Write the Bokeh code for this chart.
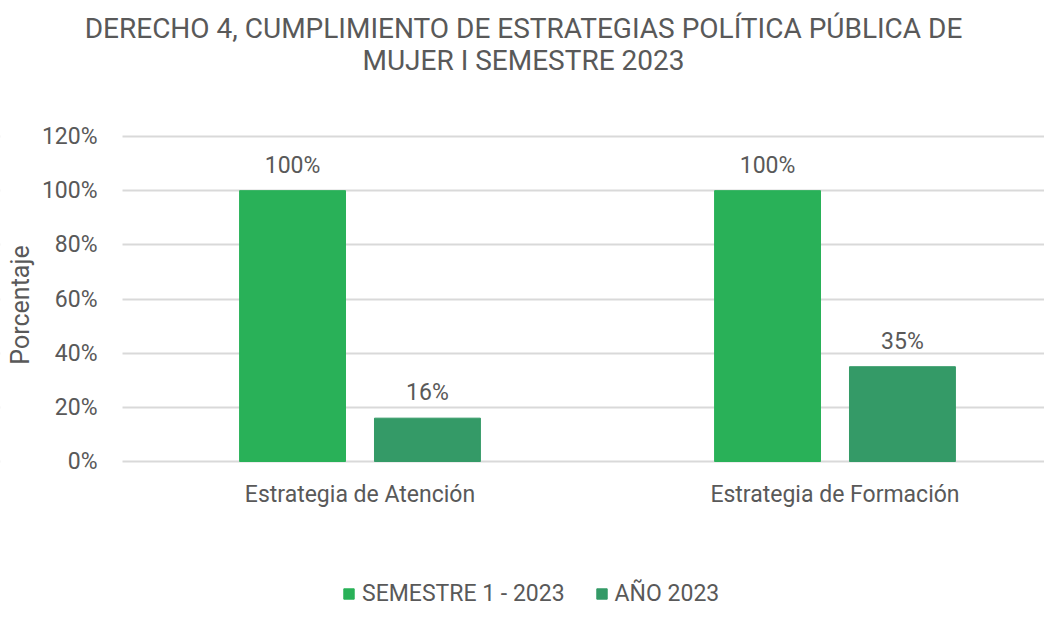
from bokeh.plotting import figure
from bokeh.models import ColumnDataSource, Legend, LegendItem, NumeralTickFormatter, Label, BoxAnnotation
from bokeh.transform import dodge
from bokeh.core.properties import value
from bokeh.embed import file_html
from bokeh.resources import INLINE

categories = ["Estrategia de Atención", "Estrategia de Formación"]
semestre = [1.00, 1.00]
anio = [0.16, 0.35]
series_names = ["SEMESTRE 1 - 2023", "AÑO 2023"]
title_lines = ["DERECHO 4, CUMPLIMIENTO DE ESTRATEGIAS POLÍTICA PÚBLICA DE", "MUJER I SEMESTRE 2023"]
y_ticks = [0, 0.2, 0.4, 0.6, 0.8, 1.0, 1.2]

FONT = "Roboto"
GREY = "#595959"
C1 = "#29B158"
C2 = "#349A67"

W, H = 1044, 609
LEFT = 122             # pixel column of the plot area's left edge
TOP0, BASE = 136, 461  # pixel rows for 120% and 0%
PX_PER_UNIT_Y = (BASE - TOP0) / 1.2
PX_PER_CAT = 475

pos = [i + 0.5 for i in range(len(categories))]
src = ColumnDataSource(dict(
    pos=pos, s=semestre, a=anio,
    sl=[f"{v*100:.0f}%" for v in semestre],
    al=[f"{v*100:.0f}%" for v in anio],
))

x_start = -LEFT / PX_PER_CAT
x_end = (W - LEFT) / PX_PER_CAT
y_start = -(H - BASE) / PX_PER_UNIT_Y
y_end = 1.2 + TOP0 / PX_PER_UNIT_Y

p = figure(x_range=(x_start, x_end), y_range=(y_start, y_end),
           width=W, height=H, output_backend="svg", toolbar_location=None,
           min_border_left=0, min_border_right=0, min_border_top=0, min_border_bottom=0)
p.outline_line_color = None

# white mask so the grid lines start at the plot area's left edge
p.add_layout(BoxAnnotation(right=0, fill_color="white", fill_alpha=1.0,
                           line_color=None, level="glyph"))

r1 = p.vbar(x=dodge("pos", -0.142), top="s", width=0.223, source=src,
            fill_color=C1, line_color=C1)
r2 = p.vbar(x=dodge("pos", 0.142), top="a", width=0.223, source=src,
            fill_color=C2, line_color=C2)

for off, ycol, tcol in [(-0.142, "s", "sl"), (0.142, "a", "al")]:
    p.text(x=dodge("pos", off), y=ycol, text=tcol, source=src,
           text_align="center", text_baseline="bottom", y_offset=-12,
           text_font=value(FONT), text_font_size="23px", text_color=GREY)

p.yaxis.fixed_location = 0
p.yaxis.formatter = NumeralTickFormatter(format="0%")
p.yaxis.ticker = y_ticks
p.yaxis.axis_line_color = None
p.yaxis.major_tick_line_color = None
p.yaxis.minor_tick_line_color = None
p.yaxis.major_tick_out = 0
p.yaxis.major_tick_in = 0
p.yaxis.major_label_standoff = 25
p.yaxis.major_label_text_font = FONT
p.yaxis.major_label_text_font_size = "23px"
p.yaxis.major_label_text_color = GREY
p.yaxis.axis_label = "Porcentaje"
p.yaxis.axis_label_text_font = FONT
p.yaxis.axis_label_text_font_size = "25px"
p.yaxis.axis_label_text_font_style = "normal"
p.yaxis.axis_label_text_color = GREY
p.yaxis.axis_label_standoff = 4

p.xaxis.fixed_location = 0
p.xaxis.ticker = pos
p.xaxis.major_label_overrides = {pv: c for pv, c in zip(pos, categories)}
p.xaxis.axis_line_color = None
p.xaxis.major_tick_line_color = None
p.xaxis.minor_tick_line_color = None
p.xaxis.major_tick_out = 0
p.xaxis.major_tick_in = 0
p.xaxis.major_label_standoff = 19
p.xaxis.major_label_text_font = FONT
p.xaxis.major_label_text_font_size = "23px"
p.xaxis.major_label_text_color = GREY

p.xgrid.grid_line_color = None
p.ygrid.grid_line_color = "#D9D9D9"
p.ygrid.grid_line_width = 2

# title lines, centred over the chart
title_x = (523 - LEFT) / PX_PER_CAT
for t, row in zip(title_lines, [28, 60]):
    p.add_layout(Label(x=title_x, y=1.2 + (TOP0 - row) / PX_PER_UNIT_Y, text=t,
                       text_align="center", text_baseline="middle",
                       text_font=FONT, text_font_size="28px", text_color=GREY))

legend = Legend(items=[LegendItem(label=series_names[0], renderers=[r1]),
                       LegendItem(label=series_names[1], renderers=[r2])],
                orientation="horizontal", location=(342, 2), padding=0, margin=0,
                label_text_font=FONT, label_text_font_size="23px", label_text_color=GREY,
                glyph_width=13, glyph_height=13, spacing=30, label_standoff=7,
                border_line_color=None, background_fill_alpha=0)
p.add_layout(legend, "center")

open("out.html", "w").write(file_html(p, INLINE))
